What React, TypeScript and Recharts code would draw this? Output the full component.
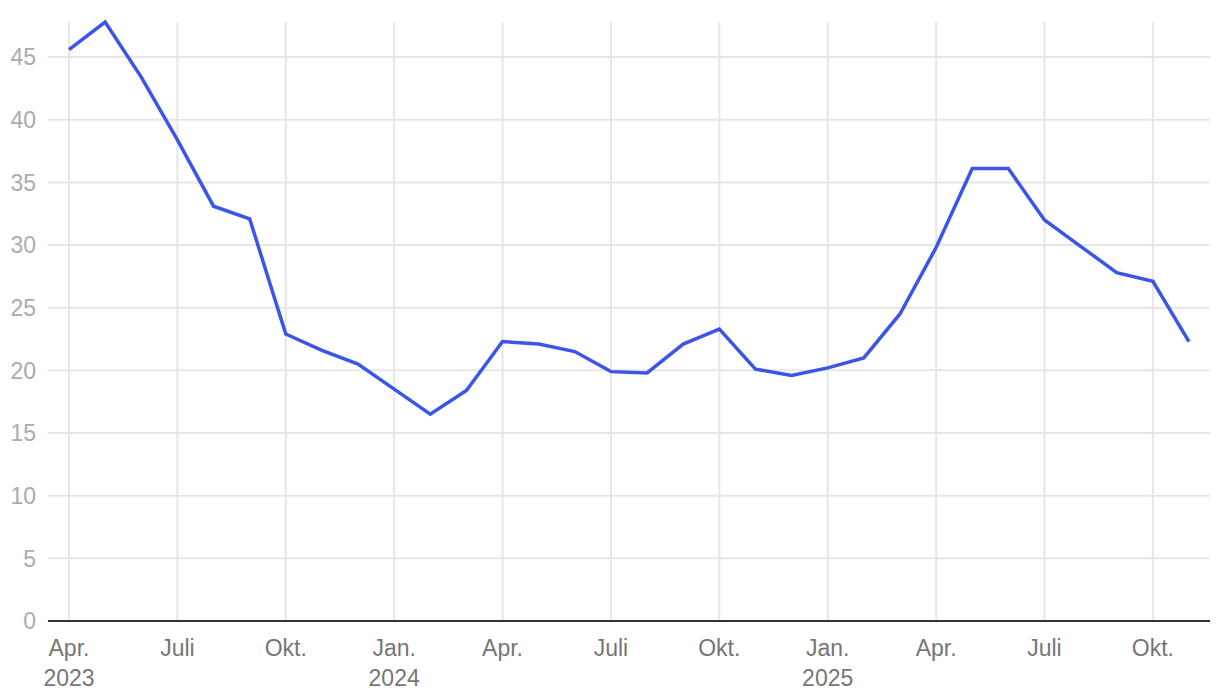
import React from 'react';
import { LineChart, Line, XAxis, YAxis, ReferenceLine } from 'recharts';

// Monthly values, Apr. 2023 – Nov. 2025
const values = [
  45.6, 47.8, 43.4, 38.4, 33.1, 32.1, 22.9, 21.6, 20.5, 18.5, 16.5, 18.4,
  22.3, 22.1, 21.5, 19.9, 19.8, 22.1, 23.3, 20.1, 19.6, 20.2, 21.0, 24.5,
  29.8, 36.1, 36.1, 32.0, 29.9, 27.8, 27.1, 22.3,
];

const xTicks = [0, 3, 6, 9, 12, 15, 18, 21, 24, 27, 30];
const xMonthLabels = ['Apr.', 'Juli', 'Okt.', 'Jan.', 'Apr.', 'Juli', 'Okt.', 'Jan.', 'Apr.', 'Juli', 'Okt.'];
const xYearLabels = ['2023', '', '', '2024', '', '', '', '2025', '', '', ''];
const yTicks = [0, 5, 10, 15, 20, 25, 30, 35, 40, 45];

const data = values.map((v, i) => ({ i, v }));

const FONT = '"Liberation Sans", Arial, Helvetica, sans-serif';
const GRID = '#e6e6e6';

const MonthTick = (props: any) => {
  const { x, y, payload } = props;
  const idx = xTicks.indexOf(payload.value);
  return (
    <text x={x} y={y} textAnchor="middle" fill="#767676" fontSize={23} fontFamily={FONT}>
      <tspan x={x} dy={27}>{xMonthLabels[idx]}</tspan>
      {xYearLabels[idx] && <tspan x={x} dy={30}>{xYearLabels[idx]}</tspan>}
    </text>
  );
};

export default function App() {
  return (
    <div style={{ position: 'absolute', left: 0, top: 0, width: 1220, height: 698, background: '#fff' }}>
      <LineChart width={1220} height={698} data={data} margin={{ top: 22, right: 10, left: 0, bottom: 7 }}>
        <XAxis
          dataKey="i"
          type="number"
          domain={[0, 31]}
          ticks={xTicks}
          interval={0}
          padding={{ left: 21, right: 21 }}
          height={70}
          tickLine={false}
          axisLine={{ stroke: '#333333', strokeWidth: 2 }}
          tick={<MonthTick />}
        />
        <YAxis
          type="number"
          domain={[0, 'dataMax']}
          ticks={yTicks}
          width={48}
          tickSize={0}
          tickMargin={12}
          axisLine={false}
          tickLine={false}
          tick={{ fill: '#ababab', fontSize: 23, fontFamily: FONT }}
        />
        {yTicks.filter((t) => t > 0).map((t) => (
          <ReferenceLine key={`h${t}`} y={t} stroke={GRID} strokeWidth={2} />
        ))}
        {xTicks.map((t) => (
          <ReferenceLine key={`v${t}`} x={t} stroke={GRID} strokeWidth={2} />
        ))}
        <Line
          type="linear"
          dataKey="v"
          stroke="#3a55e8"
          strokeWidth={3.5}
          dot={false}
          isAnimationActive={false}
        />
      </LineChart>
    </div>
  );
}
